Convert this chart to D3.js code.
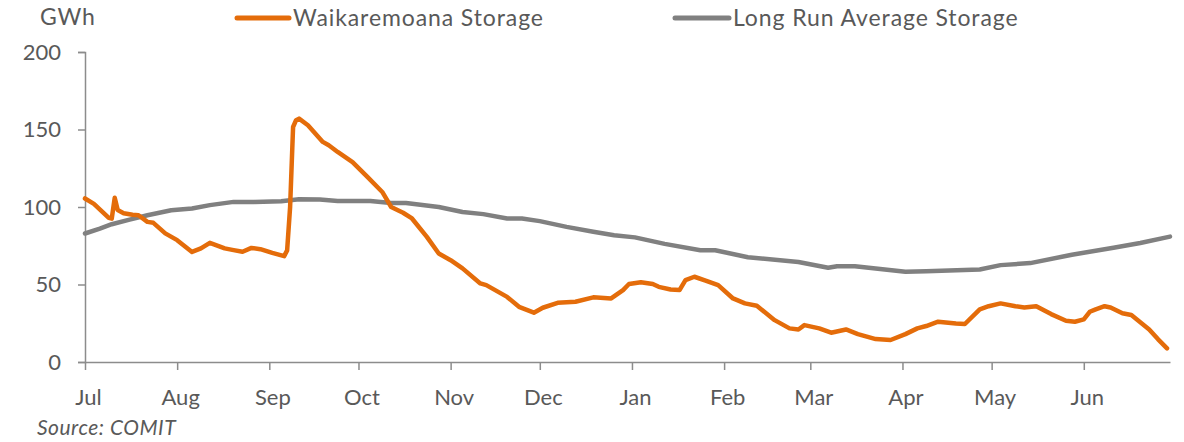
<!DOCTYPE html>
<html>
<head>
<meta charset="utf-8">
<script src="https://cdn.jsdelivr.net/npm/d3@7"></script>
<style>
  body { margin: 0; background: #fff; }
  svg { font-family: Lato, "Open Sans", sans-serif; }
</style>
</head>
<body>
<div id="chart"></div>
<script>
// Waikaremoana storage (GWh)
const storageDates = ["2023-07-01","2023-07-04","2023-07-09","2023-07-10","2023-07-11","2023-07-12","2023-07-14","2023-07-17","2023-07-19","2023-07-22","2023-07-24","2023-07-28","2023-08-01","2023-08-06","2023-08-09","2023-08-12","2023-08-17","2023-08-20","2023-08-23","2023-08-26","2023-08-29","2023-09-02","2023-09-06","2023-09-07","2023-09-08","2023-09-09","2023-09-10","2023-09-11","2023-09-14","2023-09-19","2023-09-21","2023-09-24","2023-09-29","2023-10-04","2023-10-09","2023-10-12","2023-10-16","2023-10-19","2023-10-24","2023-10-28","2023-11-01","2023-11-05","2023-11-11","2023-11-13","2023-11-20","2023-11-24","2023-11-29","2023-12-02","2023-12-07","2023-12-13","2023-12-19","2023-12-25","2023-12-29","2023-12-31","2024-01-04","2024-01-08","2024-01-10","2024-01-14","2024-01-17","2024-01-19","2024-01-22","2024-01-26","2024-01-30","2024-02-04","2024-02-08","2024-02-12","2024-02-18","2024-02-23","2024-02-26","2024-02-28","2024-03-04","2024-03-08","2024-03-13","2024-03-17","2024-03-23","2024-03-28","2024-04-02","2024-04-06","2024-04-09","2024-04-13","2024-04-19","2024-04-22","2024-04-27","2024-04-30","2024-05-04","2024-05-09","2024-05-12","2024-05-16","2024-05-21","2024-05-26","2024-05-29","2024-06-01","2024-06-03","2024-06-05","2024-06-08","2024-06-10","2024-06-14","2024-06-17","2024-06-23","2024-06-26","2024-06-29"];
const storageValues = [105.5,102,93,92.5,106,98,96,95,94.7,90.4,89.8,83,78.6,71,73.3,76.9,73.3,72.2,71.1,73.6,72.8,70.4,68.3,72,100,151.6,156,157,152.7,142,139.8,135.5,129,119.4,109.7,100,96.3,92.6,80.7,70,65.7,60.4,50.7,49.6,42,35.6,31.8,35,38.2,38.9,41.7,41,46.4,50.3,51.5,50.3,48.5,46.8,46.4,52.8,55,52.4,49.6,41,37.8,36.3,27,21.7,21,23.8,21.7,18.9,21,18,14.8,14.2,18,21.7,23.2,26,24.9,24.5,34,36,37.8,36,35.2,36,30.9,26.6,26,27.5,32.4,34,36,35.2,31.4,30.3,21,14.6,8.8];

// long run average storage (GWh)
const averageDates = ["2023-07-01","2023-07-06","2023-07-10","2023-07-16","2023-07-22","2023-07-30","2023-08-06","2023-08-12","2023-08-20","2023-08-27","2023-09-05","2023-09-11","2023-09-18","2023-09-24","2023-10-05","2023-10-12","2023-10-17","2023-10-28","2023-11-05","2023-11-12","2023-11-20","2023-11-25","2023-12-01","2023-12-10","2023-12-19","2023-12-26","2024-01-02","2024-01-12","2024-01-24","2024-01-29","2024-02-09","2024-02-26","2024-03-07","2024-03-10","2024-03-16","2024-04-02","2024-04-09","2024-04-27","2024-05-04","2024-05-14","2024-05-28","2024-06-11","2024-06-20","2024-06-30"];
const averageValues = [82.9,86.1,88.9,91.9,94.7,97.9,99,101.2,103.3,103.3,103.7,105,104.8,103.9,103.9,102.6,102.6,100,96.8,95.4,92.6,92.6,90.9,87.2,84,81.8,80.4,76.2,72.1,72.1,67.6,64.5,60.8,61.8,61.8,58.2,58.5,59.7,62.5,63.8,69.2,73.7,76.8,80.9];

const monthLabels = ["Jul","Aug","Sep","Oct","Nov","Dec","Jan","Feb","Mar","Apr","May","Jun"];
const yTicks = [0, 50, 100, 150, 200];
const seriesNames = ["Waikaremoana Storage", "Long Run Average Storage"];

const parse = d3.timeParse("%Y-%m-%d");
const storage = storageDates.map((d, i) => ({date: parse(d), value: storageValues[i]}));
const average = averageDates.map((d, i) => ({date: parse(d), value: averageValues[i]}));

const width = 1184, height = 442;
const margin = {left: 85, right: 1170, top: 52, bottom: 362};
const textColor = "#595959", axisColor = "#8c8c8c";
const orange = "#E46C0A", grey = "#808080";

const svg = d3.select("#chart").append("svg")
    .attr("width", width)
    .attr("height", height);

const x = d3.scaleTime()
    .domain([parse("2023-07-01"), parse("2024-06-30")])
    .range([margin.left, margin.right]);

const y = d3.scaleLinear()
    .domain([0, 200])
    .range([margin.bottom, margin.top]);

// y axis
const yAxis = svg.append("g")
    .attr("transform", "translate(" + margin.left + ",0)")
    .call(d3.axisLeft(y).tickValues(yTicks).tickSize(7).tickPadding(17));
yAxis.select(".domain").attr("stroke", axisColor).attr("stroke-width", 1.5);
yAxis.selectAll(".tick line").attr("stroke", axisColor).attr("stroke-width", 1.5);
yAxis.selectAll(".tick text")
    .attr("fill", textColor)
    .style("font-size", "22px")
    .style("font-family", "Lato");

// x axis, one tick at the start of each month
const monthStarts = d3.timeMonth.range(parse("2023-07-01"), parse("2024-07-01"));
const xAxis = svg.append("g")
    .attr("transform", "translate(0," + margin.bottom + ")")
    .call(d3.axisBottom(x)
      .tickValues(monthStarts)
      .tickFormat((d, i) => monthLabels[i])
      .tickSizeInner(8)
      .tickSizeOuter(0)
      .tickPadding(19));
xAxis.select(".domain").attr("stroke", axisColor).attr("stroke-width", 1.5);
xAxis.selectAll(".tick line").attr("stroke", axisColor).attr("stroke-width", 1.5);
xAxis.selectAll(".tick text")
    .attr("fill", textColor)
    .attr("dx", 3)
    .style("font-size", "22px")
    .style("font-family", "Lato");

// lines
const line = d3.line()
    .x(d => x(d.date))
    .y(d => y(d.value));

svg.append("path")
    .datum(average)
    .attr("fill", "none")
    .attr("stroke", grey)
    .attr("stroke-width", 4.5)
    .attr("stroke-linejoin", "round")
    .attr("stroke-linecap", "round")
    .attr("d", line);

svg.append("path")
    .datum(storage)
    .attr("fill", "none")
    .attr("stroke", orange)
    .attr("stroke-width", 4.5)
    .attr("stroke-linejoin", "round")
    .attr("stroke-linecap", "round")
    .attr("d", line);

// unit label
svg.append("text")
    .attr("x", 40)
    .attr("y", 25)
    .attr("fill", textColor)
    .style("font-size", "23px")
    .style("letter-spacing", "0.8px")
    .text("GWh");

// legend
const legendItems = [
  {name: seriesNames[0], color: orange, x1: 237, x2: 289, tx: 293},
  {name: seriesNames[1], color: grey, x1: 675, x2: 729, tx: 733}
];
const legend = svg.append("g");
legendItems.forEach(item => {
  legend.append("line")
      .attr("x1", item.x1).attr("x2", item.x2)
      .attr("y1", 18).attr("y2", 18)
      .attr("stroke", item.color)
      .attr("stroke-width", 5)
      .attr("stroke-linecap", "round");
  legend.append("text")
      .attr("x", item.tx)
      .attr("y", 26)
      .attr("fill", textColor)
      .style("font-size", "23px")
      .style("letter-spacing", "0.9px")
      .text(item.name);
});

// source note
svg.append("text")
    .attr("x", 37)
    .attr("y", 435)
    .attr("fill", textColor)
    .style("font-size", "21px")
    .style("font-style", "italic")
    .style("letter-spacing", "0.5px")
    .text("Source: COMIT");
</script>
</body>
</html>
